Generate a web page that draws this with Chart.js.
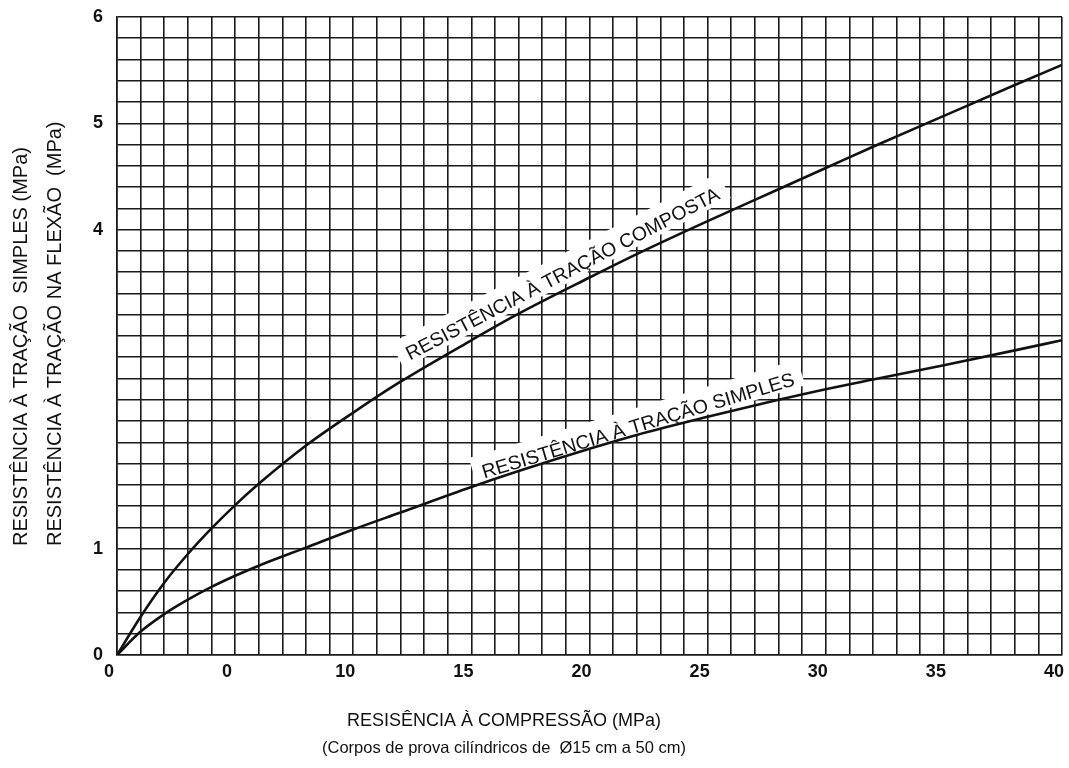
<!DOCTYPE html>
<html>
<head>
<meta charset="utf-8">
<script src="https://cdn.jsdelivr.net/npm/chart.js@4.4.1/dist/chart.umd.min.js"></script>
<style>
  html, body { margin: 0; padding: 0; background: #fff; }
  #wrap { width: 1069px; height: 768px; }
</style>
</head>
<body>
<div id="wrap"><canvas id="c" width="1069" height="768"></canvas></div>
<script>
// Compressive strength (MPa) and the matching tensile strengths (MPa)
const compressao     = [0, 1, 2, 3, 4, 5, 6, 8, 10, 12, 15, 17, 20, 22, 25, 28, 30, 32, 35, 38, 40];
const tracaoComposta = [0, 0.36, 0.68, 0.95, 1.19, 1.41, 1.61, 1.97, 2.28, 2.57, 2.96, 3.21, 3.55, 3.77, 4.08, 4.38, 4.58, 4.78, 5.07, 5.36, 5.55];
const tracaoSimples  = [0, 0.22, 0.385, 0.52, 0.64, 0.745, 0.84, 1.01, 1.18, 1.34, 1.58, 1.73, 1.94, 2.07, 2.24, 2.40, 2.50, 2.59, 2.725, 2.865, 2.96];

// Labelled ticks
const xTickValues = [0, 5, 10, 15, 20, 25, 30, 35, 40];
const xTickLabels = ['0', '0', '10', '15', '20', '25', '30', '35', '40'];
const yTickValues = [0, 1, 4, 5, 6];
const yTickLabels = ['0', '1', '4', '5', '6'];

// Titles and curve captions
const yTitleLines = ['RESISTÊNCIA À TRAÇÃO  SIMPLES (MPa)', 'RESISTÊNCIA À TRAÇÃO NA FLEXÃO  (MPa)'];
const xTitleLines = ['RESISÊNCIA À COMPRESSÃO (MPa)', '(Corpos de prova cilíndricos de  Ø15 cm a 50 cm)'];
const curveNames  = ['RESISTÊNCIA À TRAÇÃO COMPOSTA', 'RESISTÊNCIA À TRAÇÃO SIMPLES'];

const FONT = '"Liberation Sans", Arial, Helvetica, sans-serif';
const INK = '#111';
const GRID = '#1a1a1a';

function toPoints(ys) {
  return compressao.map((x, i) => ({ x: x, y: ys[i] }));
}

// Rotated captions sitting on a white band just above each curve
const curveCaptions = {
  id: 'curveCaptions',
  beforeDatasetsDraw(chart, args, opts) {
    const ctx = chart.ctx;
    const xs = chart.scales.x, ys = chart.scales.y;
    opts.items.forEach(item => {
      const px = xs.getPixelForValue(item.x);
      const py = ys.getPixelForValue(item.y);
      ctx.save();
      ctx.translate(px, py);
      ctx.rotate(item.angle * Math.PI / 180);
      ctx.font = item.size + 'px ' + FONT;
      const w = ctx.measureText(item.text).width;
      const cap = item.size * 0.72;
      ctx.fillStyle = '#fff';
      ctx.fillRect(-9, -cap - 10, w + 18, cap + 10 + item.below);
      ctx.fillStyle = INK;
      ctx.textAlign = 'left';
      ctx.textBaseline = 'alphabetic';
      ctx.fillText(item.text, 0, 0);
      ctx.restore();
    });
  }
};

// Axis titles (two lines each)
const axisTitles = {
  id: 'axisTitles',
  afterDraw(chart, args, opts) {
    const ctx = chart.ctx;
    ctx.save();
    ctx.fillStyle = INK;
    // vertical title, read bottom to top
    ctx.font = opts.yFont + 'px ' + FONT;
    ctx.textAlign = 'left';
    ctx.textBaseline = 'middle';
    opts.yLineX.forEach((lx, i) => {
      ctx.save();
      ctx.translate(lx, opts.yStart);
      ctx.rotate(-Math.PI / 2);
      ctx.fillText(yTitleLines[i], 0, 0);
      ctx.restore();
    });
    // horizontal title
    ctx.textAlign = 'center';
    opts.xLineY.forEach((ly, i) => {
      ctx.font = opts.xFont[i] + 'px ' + FONT;
      ctx.fillText(xTitleLines[i], opts.xCenter, ly);
    });
    ctx.restore();
  }
};

new Chart(document.getElementById('c'), {
  type: 'line',
  data: {
    datasets: [
      {
        label: curveNames[0],
        data: toPoints(tracaoComposta),
        borderColor: INK,
        borderWidth: 2.6,
        pointRadius: 0,
        fill: false,
        cubicInterpolationMode: 'monotone'
      },
      {
        label: curveNames[1],
        data: toPoints(tracaoSimples),
        borderColor: INK,
        borderWidth: 2.6,
        pointRadius: 0,
        fill: false,
        cubicInterpolationMode: 'monotone'
      }
    ]
  },
  options: {
    responsive: false,
    animation: false,
    devicePixelRatio: 1,
    layout: { padding: { top: 17, right: 7, left: 0, bottom: 0 } },
    plugins: {
      legend: { display: false },
      tooltip: { enabled: false },
      curveCaptions: {
        items: [
          { text: curveNames[0], x: 12.4, y: 2.77, angle: -27.5, size: 19.5, below: 4 },
          { text: curveNames[1], x: 15.55, y: 1.66, angle: -16.7, size: 19.5, below: 3 }
        ]
      },
      axisTitles: {
        yFont: 20, yLineX: [21, 55], yStart: 546,
        xFont: [18, 16.5], xCenter: 504, xLineY: [721, 748]
      }
    },
    scales: {
      x: {
        type: 'linear',
        min: 0,
        max: 40,
        ticks: {
          stepSize: 1,
          autoSkip: false,
          maxRotation: 0,
          padding: 6,
          labelOffset: -8,
          color: INK,
          font: { family: FONT, size: 18, weight: 'bold' },
          callback: v => {
            const i = xTickValues.findIndex(t => Math.abs(t - v) < 1e-6);
            return i >= 0 ? xTickLabels[i] : '';
          }
        },
        grid: { color: GRID, lineWidth: 1.6, drawTicks: false },
        border: { color: GRID, width: 1.6 },
        afterFit: s => { s.height = 113; s.paddingLeft = 0; s.paddingRight = 0; }
      },
      y: {
        min: 0,
        max: 6,
        ticks: {
          stepSize: 0.2,
          autoSkip: false,
          padding: 14,
          color: INK,
          font: { family: FONT, size: 18, weight: 'bold' },
          callback: v => {
            const i = yTickValues.findIndex(t => Math.abs(t - v) < 1e-6);
            return i >= 0 ? yTickLabels[i] : '';
          }
        },
        grid: { color: GRID, lineWidth: 1.6, drawTicks: false },
        border: { color: GRID, width: 1.6 },
        afterFit: s => { s.width = 117; s.paddingTop = 0; s.paddingBottom = 0; }
      }
    }
  },
  plugins: [curveCaptions, axisTitles]
});
</script>
</body>
</html>
